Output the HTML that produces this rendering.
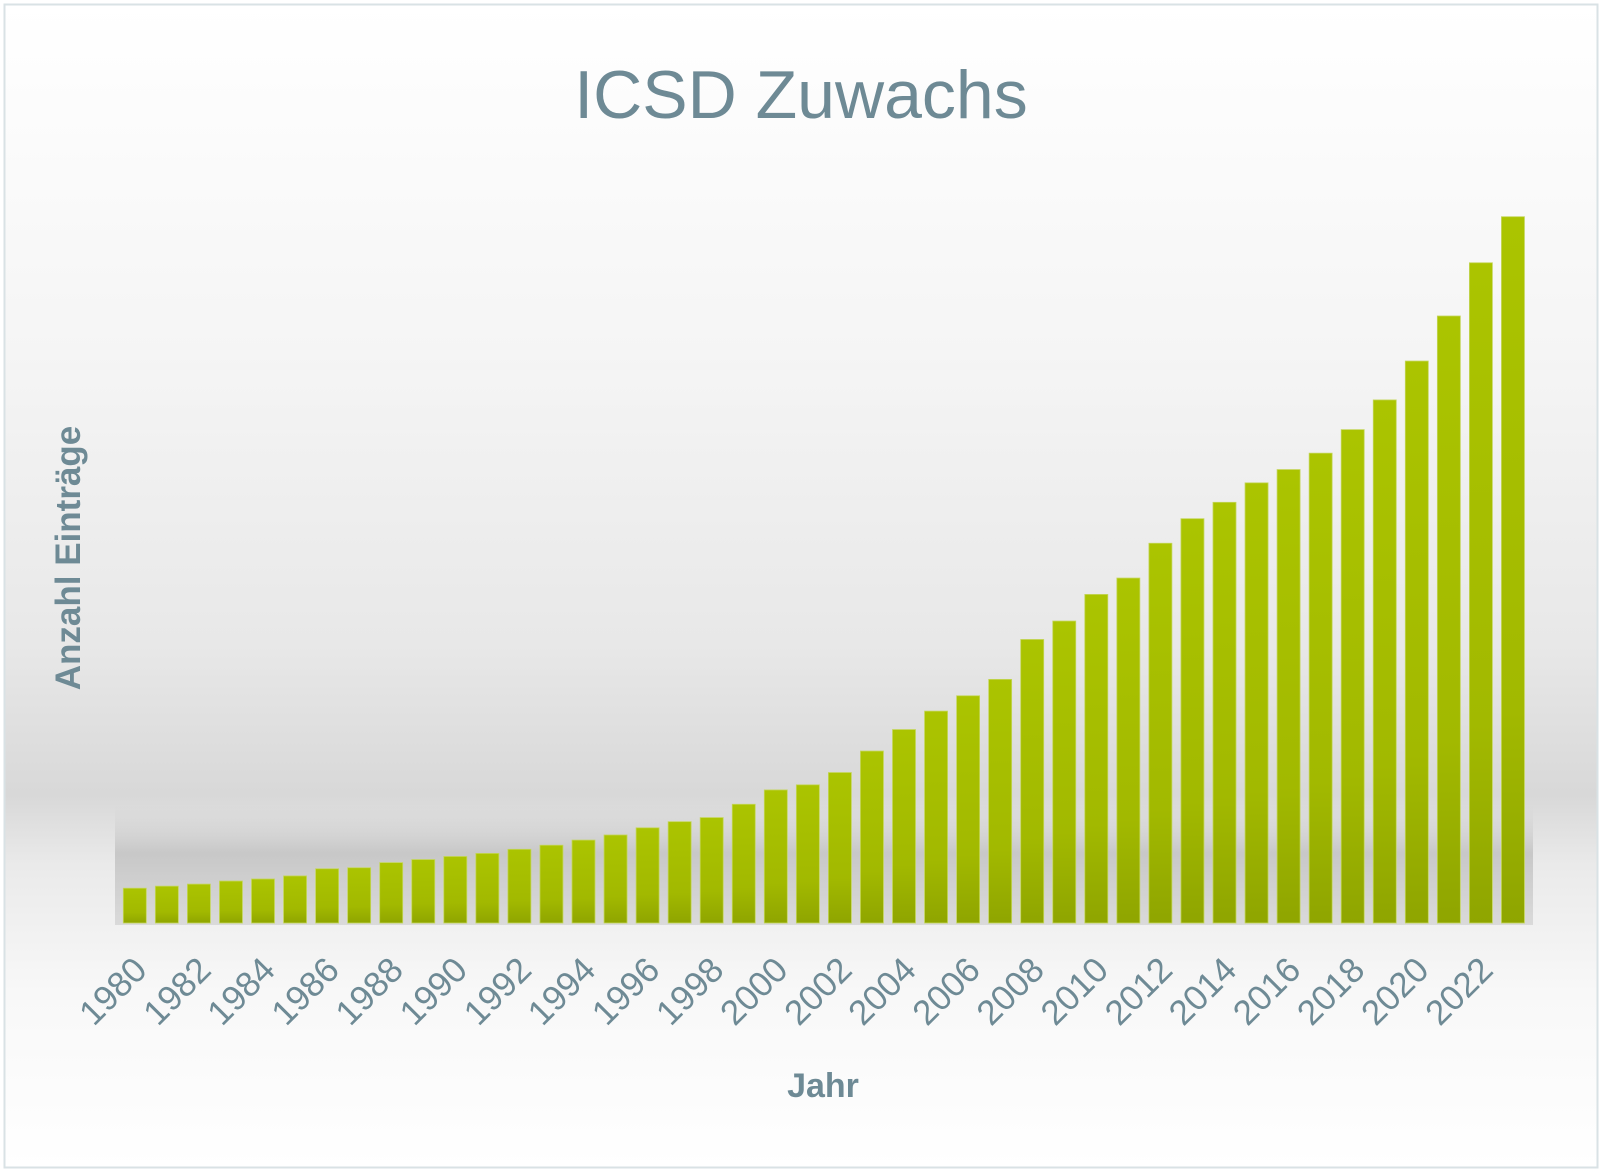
<!DOCTYPE html>
<html><head><meta charset="utf-8"><style>
body{margin:0;background:#fff;}
svg{display:block;font-family:"Liberation Sans",sans-serif;}
</style></head><body>
<svg id="chart" width="1604" height="1173" viewBox="0 0 1604 1173">
<defs>
<linearGradient id="bg" x1="0" y1="0" x2="0" y2="1">
<stop offset="0" stop-color="#ffffff"/>
<stop offset="0.3" stop-color="#f5f5f5"/>
<stop offset="0.55" stop-color="#e8e8e8"/>
<stop offset="0.68" stop-color="#d8d8d8"/>
<stop offset="0.74" stop-color="#eaeaea"/>
<stop offset="0.85" stop-color="#f8f8f8"/>
<stop offset="1" stop-color="#ffffff"/>
</linearGradient>
<linearGradient id="shadow" x1="0" y1="0" x2="0" y2="1">
<stop offset="0" stop-color="#d0d0d0" stop-opacity="0"/>
<stop offset="0.4" stop-color="#c4c4c4" stop-opacity="0.9"/>
<stop offset="1" stop-color="#d4d4d4" stop-opacity="0.8"/>
</linearGradient>
<linearGradient id="bar" x1="0" y1="0" x2="0" y2="1">
<stop offset="0" stop-color="#abc400"/>
<stop offset="0.7" stop-color="#a2b900"/>
<stop offset="1" stop-color="#8fa500"/>
</linearGradient>
</defs>
<rect x="4.5" y="4.5" width="1593" height="1163" fill="url(#bg)" stroke="#d9e2e5" stroke-width="2"/>
<rect x="115" y="805" width="1418" height="120" fill="url(#shadow)"/>
<text x="801" y="118" text-anchor="middle" font-size="68" fill="#6e8a95">ICSD Zuwachs</text>
<text transform="translate(80,558) rotate(-90)" text-anchor="middle" font-size="35" font-weight="bold" fill="#6e8a95">Anzahl Einträge</text>
<text x="823" y="1097" text-anchor="middle" font-size="34" font-weight="bold" fill="#6e8a95">Jahr</text>
<g id="bars"></g>
<g id="ticks"></g>
</svg>
<script>
const years = [];
for (let y = 1980; y <= 2023; y++) years.push(y);
const values = [34,36,38,41,43,46,53,54,59,62,65,68,72,76,81,86,93,99,103,116,130,135,147,168,189,207,222,238,277,295,321,337,371,395,411,430,443,459,482,511,549,593,645,690];
const tickLabels = ["1980","1982","1984","1986","1988","1990","1992","1994","1996","1998","2000","2002","2004","2006","2008","2010","2012","2014","2016","2018","2020","2022"];

const NS = "http://www.w3.org/2000/svg";
const baseY = 923, pxPerUnit = 1.0236;
const x0 = 123.3, pitch = 32.05, bw = 23;
function xPos(i){ return x0 + i * pitch; }
function yPos(v){ return baseY - v * pxPerUnit; }
const bars = document.getElementById('bars');
values.forEach((v, i) => {
  const r = document.createElementNS(NS, 'rect');
  
  
  r.setAttribute('x', xPos(i));
  r.setAttribute('y', yPos(v));
  r.setAttribute('width', bw);
  r.setAttribute('height', baseY - yPos(v));
  r.setAttribute('fill', 'url(#bar)');
  r.setAttribute('stroke', '#c4d65a');
  r.setAttribute('stroke-width', '0.8');
  bars.appendChild(r);
});
const ticks = document.getElementById('ticks');
tickLabels.forEach(lbl => {
  const i = years.indexOf(parseInt(lbl));
  const cx = xPos(i) + bw / 2 + 14;
  const t = document.createElementNS(NS, 'text');
  
  
  t.setAttribute('transform', 'translate(' + cx + ',972) rotate(-45)');
  t.setAttribute('text-anchor', 'end');
  t.setAttribute('font-size', '35');
  t.setAttribute('fill', '#6e8a95');
  t.textContent = lbl;
  ticks.appendChild(t);
});
</script>
</body></html>
